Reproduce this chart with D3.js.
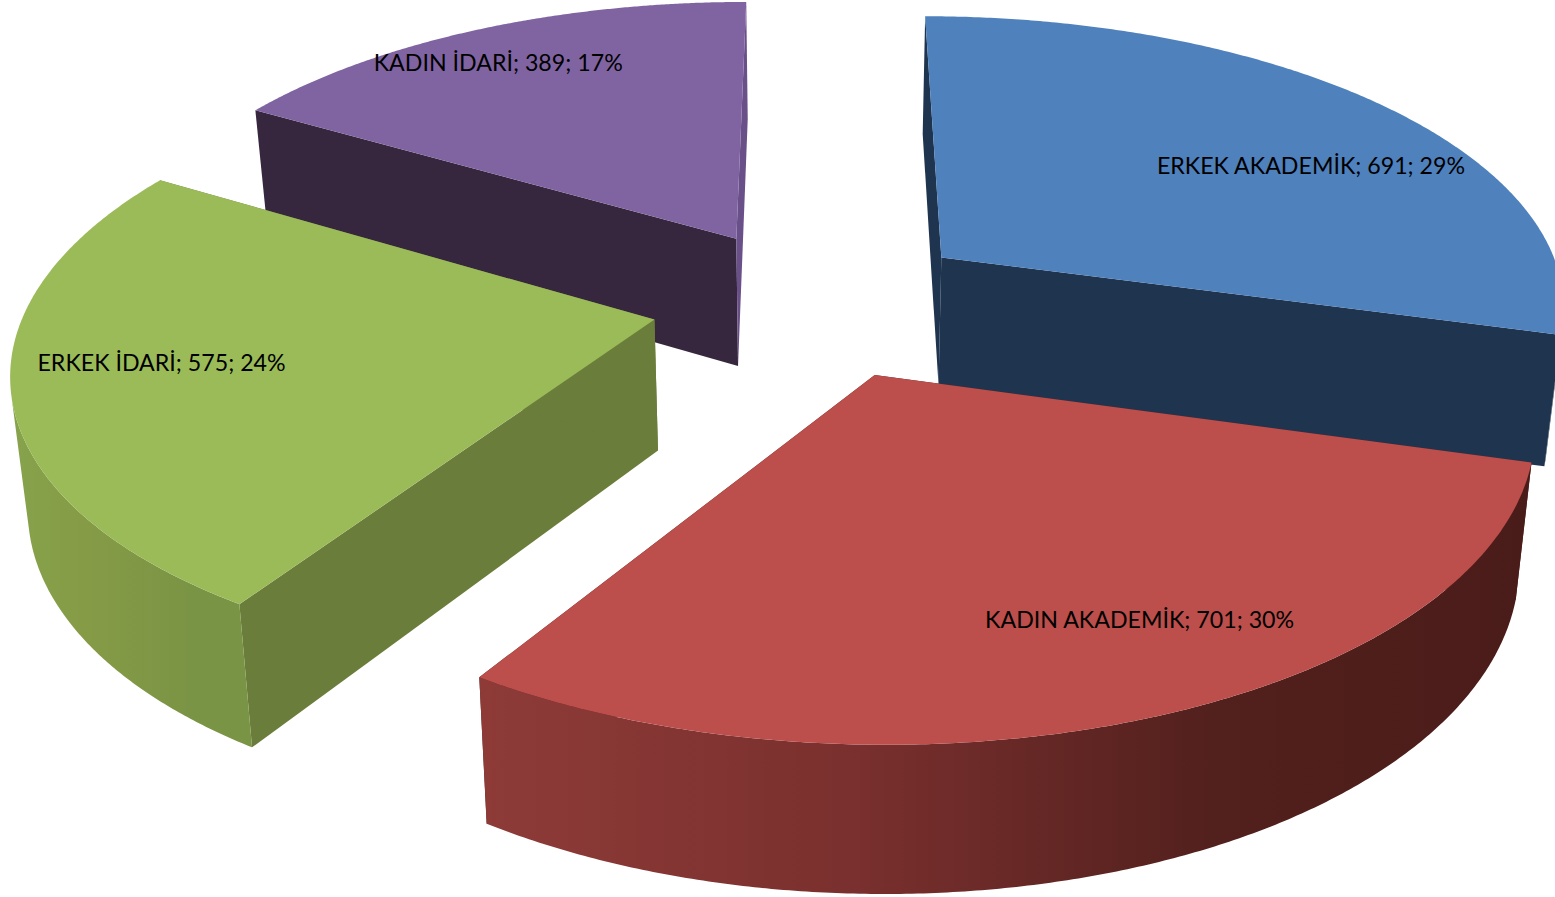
<!DOCTYPE html>
<html><head><meta charset="utf-8">
<script src="https://cdn.jsdelivr.net/npm/d3@7/dist/d3.min.js"></script>
<style>html,body{margin:0;padding:0;background:#fff;overflow:hidden}svg{display:block}</style>
</head><body><svg id="c" width="1555" height="897"></svg>
<script>
// data
const categories = ["ERKEK AKADEMİK","KADIN AKADEMİK","ERKEK İDARİ","KADIN İDARİ"];
const values = [691,701,575,389];
const percents = [29,30,24,17];
// style
const topColors = ["#4F81BD","#BC4E4B","#9BBB59","#8064A2"];
const startWallColors = ["#1F344F","#4F1F1C","#6B7D3A","#36273F"];
const endWallColors = ["#1F344F","#4F1F1C","#6B7D3A","#6A5088"];
const outerStops = [
  [["0","#1F344F"],["1","#1F344F"]],
  [["0","#8E3B38"],["0.35","#7A302E"],["0.7","#52201D"],["1","#4A1C19"]],
  [["0","#86A34C"],["0.3","#869B46"],["0.75","#7A9445"],["1","#7A9445"]],
  [["0","#6A5088"],["1","#6A5088"]]
];
// label placement in pie space: radial fraction and angle shift from the slice's mid-angle (deg)
const labelRadius = [0.735,0.78,0.77,0.848];
const labelShift = [8.6,-6.05,2.8,-2.1];

// camera
const cx=814.5, horizon=-1630, depthB=1932, focal=627, persp=0.15, explode=0.26;
const lowerX=0.978, depthBase=117, depthGrowth=0.0433;
const xScale=d3.scaleLinear().domain([0,1]).range([cx,cx+focal]);
const yScale=d3.scaleLinear().domain([0,1]).range([horizon,horizon+depthB]);
function project(X,Y,lower){
  const w=1-persp*Y;
  let sx=xScale(X/w), sy=yScale(1/w);
  if(lower){sx=cx+(sx-cx)*lowerX; sy=sy+depthBase+depthGrowth*sy;}
  return [sx,sy];
}
const pie=d3.pie().sort(null).value(d=>d);
const arcs=pie(values);
const line=d3.line();
const svg=d3.select("#c");
const defs=svg.append("defs");

function polar(c,a,r){return [c[0]+r*Math.sin(a), c[1]-r*Math.cos(a)];}

const slices=arcs.map((a,i)=>{
  const mid=(a.startAngle+a.endAngle)/2;
  const center=polar([0,0],mid,explode);
  const angles=d3.range(0,241).map(k=>a.startAngle+(a.endAngle-a.startAngle)*k/240);
  return {i,a,mid,center,angles};
});
// painter's order: far slices first
const order=[3,0,2,1];
order.forEach(idx=>{
  const s=slices[idx], i=s.i, c=s.center;
  const rimT=s.angles.map(t=>project(...polar(c,t,1),false));
  const rimB=s.angles.map(t=>project(...polar(c,t,1),true));
  const apexT=project(c[0],c[1],false), apexB=project(c[0],c[1],true);
  const g=svg.append("g").attr("class","slice");
  // radial walls
  g.append("path").attr("d",line([apexT,rimT[0],rimB[0],apexB])+"Z").attr("fill",startWallColors[i]);
  g.append("path").attr("d",line([apexT,rimT[240],rimB[240],apexB])+"Z").attr("fill",endWallColors[i]);
  // outer wall: only the arc steps that face the camera
  const facing=d3.range(240).filter(k=>d3.polygonArea([rimT[k],rimT[k+1],rimB[k+1],rimB[k]])>0);
  if(facing.length){
    const k0=d3.min(facing), k1=d3.max(facing)+1;
    const xs=rimT.concat(rimB).map(p=>p[0]);
    const gid="grad"+i;
    const lg=defs.append("linearGradient").attr("id",gid).attr("gradientUnits","userSpaceOnUse")
      .attr("x1",d3.min(xs)).attr("x2",d3.max(xs)).attr("y1",0).attr("y2",0);
    outerStops[i].forEach(st=>lg.append("stop").attr("offset",st[0]).attr("stop-color",st[1]));
    g.append("path").attr("d",line(rimT.slice(k0,k1+1).concat(rimB.slice(k0,k1+1).reverse()))+"Z")
      .attr("fill",`url(#${gid})`);
  }
  // top
  g.append("path").attr("d",line([apexT].concat(rimT))+"Z").attr("fill",topColors[i]);
});
// labels
slices.forEach(s=>{
  const i=s.i;
  const p=polar(s.center,s.mid+labelShift[i]*Math.PI/180,labelRadius[i]);
  const q=project(p[0],p[1],false);
  svg.append("text").attr("x",q[0]).attr("y",q[1]).attr("text-anchor","middle").attr("dominant-baseline","central")
    .attr("font-family","Lato, 'Open Sans', sans-serif").attr("font-size",23.2).attr("fill","#000")
    .text(`${categories[i]}; ${values[i]}; ${percents[i]}%`);
});
</script></body></html>
